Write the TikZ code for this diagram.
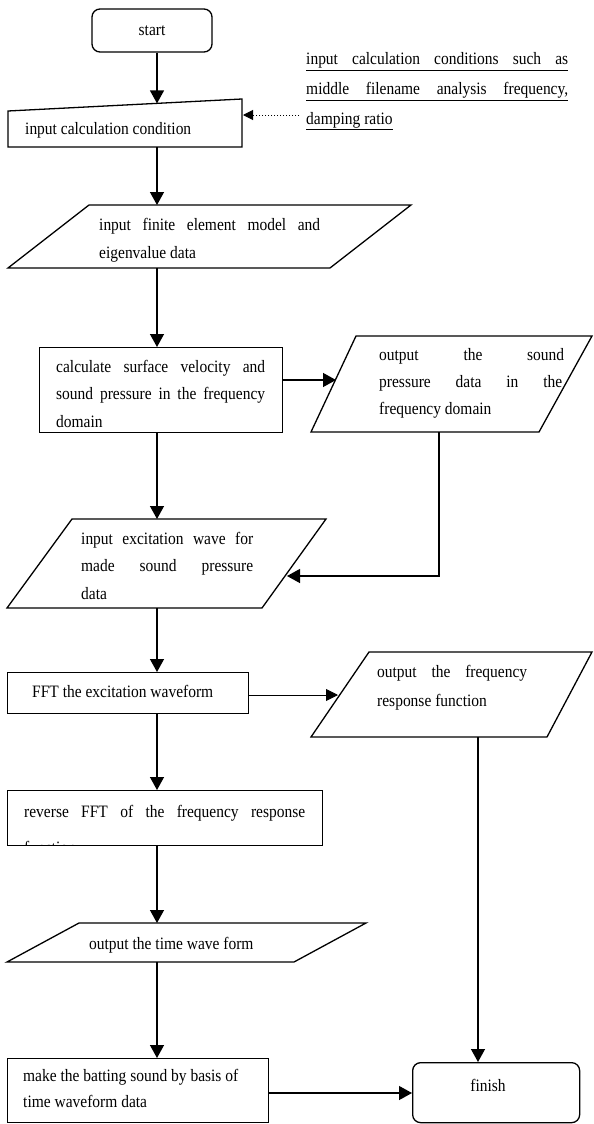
\documentclass[tikz,border=0pt]{standalone}
\usepackage{fontspec}
\setmainfont{Liberation Serif}[FakeStretch=0.89]
\usetikzlibrary{arrows.meta}
\newcommand{\txtfont}{\fontsize{17.4}{28}\selectfont}
\newcommand{\jl}[2]{\makebox[#1pt][s]{#2}}
\tikzset{
  box/.style={draw, line width=1.3pt},
  arr/.style={line width=1.3pt, -{Triangle[length=13pt,width=14pt]}},
  thinarr/.style={line width=0.9pt, -{Triangle[length=12pt,width=12pt]}},
  dotarr/.style={line width=1pt, dotted, -{Triangle[length=10pt,width=10pt]}},
  txt/.style={anchor=base west, inner sep=0pt, font=\txtfont},
  ctxt/.style={anchor=center, inner sep=0pt, font=\txtfont},
}
\begin{document}
\begin{tikzpicture}[x=1pt,y=-1pt]
\useasboundingbox (0,0) rectangle (594,1124);

% start
\node[box, rounded corners=8pt, minimum width=120pt, minimum height=43pt, inner sep=0pt, font=\txtfont] (start) at (152,30.5) {start};

% input calculation condition (manual input)
\draw[box] (8,111) -- (242,99) -- (242,147) -- (8,147) -- cycle;
\coordinate (inT) at (157,103.4);
\coordinate (inB) at (157,147);
\coordinate (inR) at (243,115);
\node[txt] (inText) at (25,134) {input calculation condition};

% note
\node[txt] (n1) at (306,65) {\underline{\jl{262}{input calculation conditions such as}}};
\node[txt] (n2) at (306,95) {\underline{\jl{262}{middle filename analysis frequency,}}};
\node[txt] (n3) at (306,124) {\underline{damping ratio}};
\coordinate (noteL) at (299,115);

% parallelogram 1
\draw[box] (89,205) -- (411,205) -- (330,268) -- (8,268) -- cycle;
\coordinate (p1T) at (157,205);
\coordinate (p1B) at (157,268);
\node[txt] (p1a) at (99,230) {\jl{221}{input finite element model and}};
\node[txt] (p1b) at (99,258) {eigenvalue data};

% calculate box
\node[box, minimum width=243pt, minimum height=85pt, anchor=north west, inner sep=0pt] (calc) at (39,347) {};
\coordinate (calcT) at (157,347);
\coordinate (calcB) at (157,432);
\coordinate (calcR) at (282,380);
\node[txt] (c1) at (56,372) {\jl{209}{calculate surface velocity and}};
\node[txt] (c2) at (56,399) {\jl{209}{sound pressure in the frequency}};
\node[txt] (c3) at (56,427) {domain};

% output sound pressure parallelogram
\draw[box] (356,336) -- (592,336) -- (539,432) -- (311,432) -- cycle;
\coordinate (o1L) at (336,380);
\coordinate (o1B) at (439,432);
\node[txt] (o1a) at (379,360) {\jl{185}{output the sound}};
\node[txt] (o1b) at (379,387) {\jl{183}{pressure data in the}};
\node[txt] (o1c) at (379,414) {frequency domain};

% parallelogram 2
\draw[box] (72,519) -- (326,519) -- (262,608) -- (7,608) -- cycle;
\coordinate (p2T) at (157,519);
\coordinate (p2B) at (157,608);
\coordinate (p2R) at (287,576);
\node[txt] (p2a) at (81,544) {\jl{172}{input excitation wave for}};
\node[txt] (p2b) at (81,571) {\jl{172}{made sound pressure}};
\node[txt] (p2c) at (81,599) {data};

% FFT box
\node[box, minimum width=241pt, minimum height=41pt, anchor=north west, inner sep=0pt] (fft) at (7,672) {};
\coordinate (fftT) at (157,672);
\coordinate (fftB) at (157,713);
\coordinate (fftR) at (248,695);
\node[txt] (fftText) at (32,697) {FFT the excitation waveform};

% frequency response parallelogram
\draw[box] (369,652) -- (592,652) -- (547,737) -- (311,737) -- cycle;
\coordinate (frL) at (338,695);
\coordinate (frB) at (478,737);
\node[txt] (fra) at (377,677) {\jl{150}{output the frequency}};
\node[txt] (frb) at (377,706) {response function};

% reverse FFT box
\node[box, minimum width=315pt, minimum height=55pt, anchor=north west, inner sep=0pt] (rev) at (7,790) {};
\coordinate (revT) at (157,790);
\coordinate (revB) at (157,845);
\node[txt] (rva) at (24,817) {\jl{281}{reverse FFT of the frequency response}};
\begin{scope}
  \clip (8,791) rectangle (321,844.5);
  \node[txt] (rvb) at (24,853) {function};
\end{scope}

% time wave form parallelogram
\draw[box] (79,923) -- (366,923) -- (294,962) -- (7,962) -- cycle;
\coordinate (p3T) at (157,923);
\coordinate (p3B) at (157,962);
\node[txt] (p3a) at (89,949) {output the time wave form};

% make box
\node[box, minimum width=261pt, minimum height=64pt, anchor=north west, inner sep=0pt] (make) at (7,1058) {};
\coordinate (makeT) at (157,1058);
\coordinate (makeR) at (268,1093);
\node[txt] (mka) at (23,1081) {make the batting sound by basis of};
\node[txt] (mkb) at (23,1107) {time waveform data};

% finish
\node[box, rounded corners=8pt, minimum width=167pt, minimum height=60pt, anchor=north west, inner sep=0pt] (finish) at (412,1062) {};
\coordinate (finT) at (478,1062);
\coordinate (finL) at (412,1093);
\node[ctxt] (finText) at (488,1085) {finish};

% connectors
\draw[arr] (start.south -| inT) -- (inT);
\draw[dotarr] (noteL) -- (inR);
\draw[arr] (inB) -- (p1T);
\draw[arr] (p1B) -- (calcT);
\draw[arr] (calcR) -- (o1L);
\draw[arr] (o1B) |- (p2R);
\draw[arr] (calcB) -- (p2T);
\draw[arr] (p2B) -- (fftT);
\draw[thinarr] (fftR) -- (frL);
\draw[arr] (fftB) -- (revT);
\draw[arr] (frB) -- (finT);
\draw[arr] (revB) -- (p3T);
\draw[arr] (p3B) -- (makeT);
\draw[arr] (makeR) -- (finL);
\end{tikzpicture}
\end{document}
